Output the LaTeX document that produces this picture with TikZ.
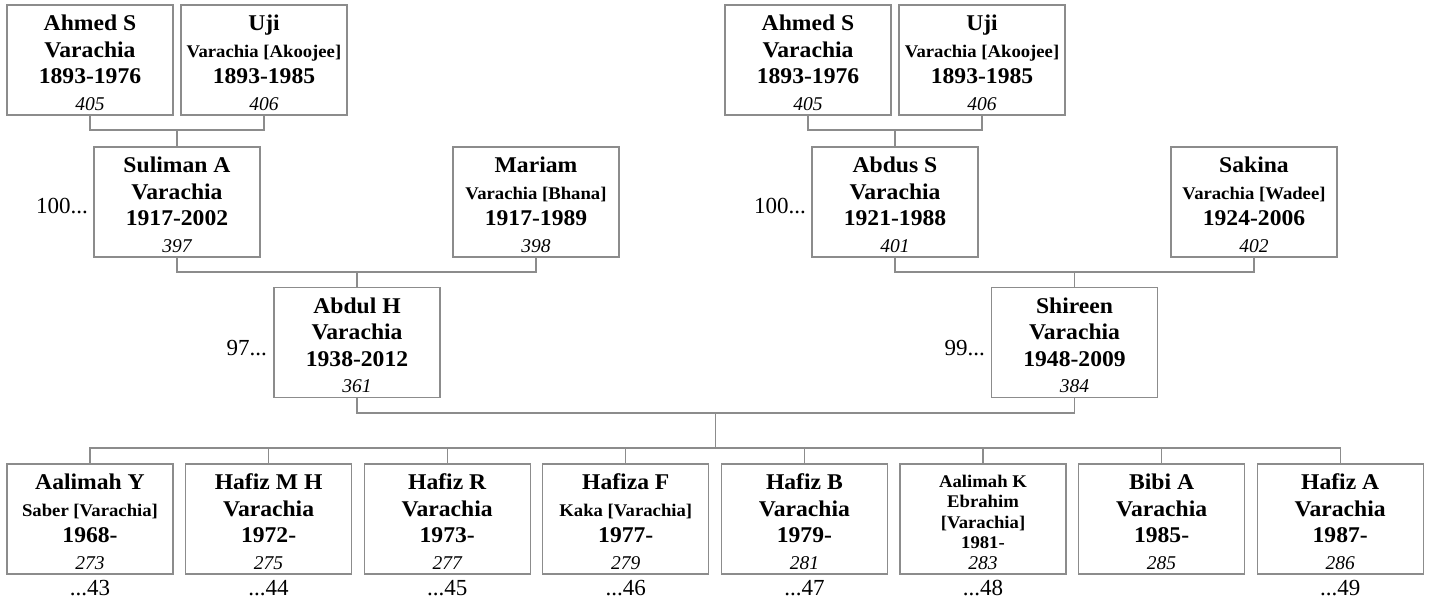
\documentclass[tikz,border=0pt]{standalone}
\usepackage{fontspec}
\setmainfont{Liberation Serif}
\newfontfamily\bw{Liberation Serif}[FakeStretch=1.05]
\definecolor{lgray}{HTML}{8C8C8C}
\newcommand\smalln[1]{{\fontsize{17.8}{26.5}\selectfont #1}}
\newcommand\pid[1]{{\normalfont\fontsize{19.5}{26.5}\selectfont\itshape #1}}
\newcommand\stt{\rule{0pt}{20.7pt}}
\tikzset{
  pbox/.style={draw=lgray, line width=1.3pt, minimum width=166pt, minimum height=110pt,
    inner sep=0pt, align=center, font=\bw\fontsize{22.5}{26.5}\selectfont\bfseries},
  conn/.style={draw=lgray, line width=1.3pt},
  lbl/.style={font=\fontsize{23}{26}\selectfont, inner sep=0pt},
}
\begin{document}
\begin{tikzpicture}[x=1pt,y=-1pt]
\useasboundingbox (0,0) rectangle (1430,602);
% top row
\node[pbox] (ahmedL) at (90,60) {\stt Ahmed S\\Varachia\\1893-1976\\\pid{405}};
\node[pbox] (ujiL) at (264,60) {\stt Uji\\\smalln{Varachia [Akoojee]}\\1893-1985\\\pid{406}};
\node[pbox] (ahmedR) at (808,60) {\stt Ahmed S\\Varachia\\1893-1976\\\pid{405}};
\node[pbox] (ujiR) at (982,60) {\stt Uji\\\smalln{Varachia [Akoojee]}\\1893-1985\\\pid{406}};
% middle row
\node[pbox] (suliman) at (177,202) {\stt Suliman A\\Varachia\\1917-2002\\\pid{397}};
\node[pbox] (mariam) at (536,202) {\stt Mariam\\\smalln{Varachia [Bhana]}\\1917-1989\\\pid{398}};
\node[pbox] (abdus) at (895,202) {\stt Abdus S\\Varachia\\1921-1988\\\pid{401}};
\node[pbox] (sakina) at (1254,202) {\stt Sakina\\\smalln{Varachia [Wadee]}\\1924-2006\\\pid{402}};
% third row
\node[pbox] (abdul) at (357,342.5) {\stt Abdul H\\Varachia\\1938-2012\\\pid{361}};
\node[pbox] (shireen) at (1074.5,342.5) {\stt Shireen\\Varachia\\1948-2009\\\pid{384}};
% children
\node[pbox] (c1) at (90,519) {\stt Aalimah Y\\\smalln{Saber [Varachia]}\\1968-\\\pid{273}};
\node[pbox] (c2) at (268.6,519) {\stt Hafiz M H\\Varachia\\1972-\\\pid{275}};
\node[pbox] (c3) at (447.2,519) {\stt Hafiz R\\Varachia\\1973-\\\pid{277}};
\node[pbox] (c4) at (625.8,519) {\stt Hafiza F\\\smalln{Kaka [Varachia]}\\1977-\\\pid{279}};
\node[pbox] (c5) at (804.4,519) {\stt Hafiz B\\Varachia\\1979-\\\pid{281}};
\node[pbox, font=\bw\fontsize{17.8}{20.4}\selectfont\bfseries] (c6) at (983,519)
  {\rule{0pt}{18.8pt}Aalimah K\\Ebrahim\\{[}Varachia{]}\\1981-\\\pid{283}};
\node[pbox] (c7) at (1161.6,519) {\stt Bibi A\\Varachia\\1985-\\\pid{285}};
\node[pbox] (c8) at (1340.2,519) {\stt Hafiz A\\Varachia\\1987-\\\pid{286}};
% side labels
\node[lbl, anchor=east] (l1) at (88,206) {100...};
\node[lbl, anchor=east] (l2) at (806,206) {100...};
\node[lbl, anchor=east] (l3) at (267,348) {97...};
\node[lbl, anchor=east] (l4) at (985,348) {99...};
\node[lbl] (d1) at (90,588) {...43};
\node[lbl] (d2) at (268.6,588) {...44};
\node[lbl] (d3) at (447.2,588) {...45};
\node[lbl] (d4) at (625.8,588) {...46};
\node[lbl] (d5) at (804.4,588) {...47};
\node[lbl] (d6) at (983,588) {...48};
\node[lbl] (d8) at (1340.2,588) {...49};
% connectors
\coordinate (cp1) at (177,130);
\coordinate (cp2) at (357,272);
\coordinate (cp3) at (895,130);
\coordinate (cp4) at (1074.5,272);
\coordinate (cp5) at (715.75,413);
\coordinate (cp6) at (715.75,448);
\draw[conn] (ahmedL.south) |- (cp1) -| (ujiL.south);
\draw[conn] (cp1) -- (suliman.north);
\draw[conn] (suliman.south) |- (cp2) -| (mariam.south);
\draw[conn] (cp2) -- (abdul.north);
\draw[conn] (ahmedR.south) |- (cp3) -| (ujiR.south);
\draw[conn] (cp3) -- (abdus.north);
\draw[conn] (abdus.south) |- (cp4) -| (sakina.south);
\draw[conn] (cp4) -- (shireen.north);
\draw[conn] (abdul.south) |- (cp5) -| (shireen.south);
\draw[conn] (cp5) -- (cp6);
\draw[conn] (c1.north) |- (cp6) -| (c8.north);
\foreach \c in {c2,c3,c4,c5,c6,c7}
  \draw[conn] (\c.north) -- (\c.north |- cp6);
\end{tikzpicture}
\end{document}
